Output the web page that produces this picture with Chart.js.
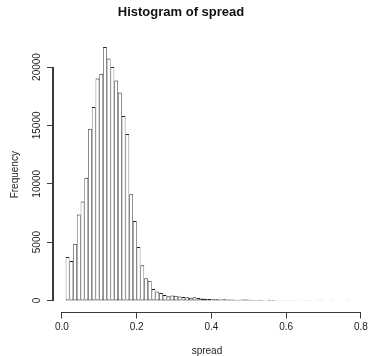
<!DOCTYPE html>
<html>
<head>
<meta charset="utf-8">
<script src="https://cdn.jsdelivr.net/npm/chart.js@4/dist/chart.umd.min.js"></script>
<style>
  html, body { margin: 0; padding: 0; background: #ffffff; }
  canvas { display: block; }
</style>
</head>
<body>
<canvas id="c" width="371" height="356"></canvas>
<script>
// Histogram bins: left edges of each 0.01-wide bin
const binLeft = [
  0.01, 0.02, 0.03, 0.04, 0.05, 0.06, 0.07, 0.08, 0.09, 0.10,
  0.11, 0.12, 0.13, 0.14, 0.15, 0.16, 0.17, 0.18, 0.19, 0.20,
  0.21, 0.22, 0.23, 0.24, 0.25, 0.26, 0.27, 0.28, 0.29, 0.30,
  0.31, 0.32, 0.33, 0.34, 0.35, 0.36, 0.37, 0.38, 0.39, 0.40,
  0.41, 0.42, 0.43, 0.44, 0.45, 0.46, 0.47, 0.48, 0.49, 0.50,
  0.51, 0.52, 0.53, 0.54, 0.55, 0.56, 0.57, 0.58, 0.59, 0.60,
  0.61, 0.62, 0.63, 0.64, 0.65, 0.66, 0.67, 0.68, 0.69, 0.70,
  0.71, 0.72, 0.73, 0.74, 0.75, 0.76
];
const binWidth = 0.01;
// Frequencies
const frequency = [
  3730, 3380, 4870, 7370, 8480, 10520, 14710, 16570, 19010, 19430,
  21710, 20730, 20000, 18840, 17810, 15800, 14260, 9100, 6810, 4580,
  3020, 1900, 1700, 990, 760, 650, 470, 370, 420, 400,
  330, 290, 270, 230, 280, 220, 160, 150, 130, 110,
  110, 90, 100, 90, 80, 60, 55, 80, 75, 70,
  45, 40, 35, 30, 70, 50, 20, 25, 15, 15,
  20, 10, 12, 8, 15, 10, 8, 10, 12, 6,
  8, 10, 5, 8, 6, 10
];
const xTicks = [0.0, 0.2, 0.4, 0.6, 0.8];
const xTickLabels = ["0.0", "0.2", "0.4", "0.6", "0.8"];
const yTicks = [0, 5000, 10000, 15000, 20000];
const yTickLabels = ["0", "5000", "10000", "15000", "20000"];
const titleText = "Histogram of spread";
const xTitle = "spread";
const yTitle = "Frequency";

const points = binLeft.map((b, i) => ({ x: b + binWidth / 2, y: frequency[i] }));

const FONT = "'Liberation Sans', Arial, Helvetica, sans-serif";
const AXIS_COLOR = "#3a3a3a";
const TEXT_COLOR = "#222222";

// R-style axis lines spanning only the tick range
const rAxes = {
  id: 'rAxes',
  afterDraw(chart) {
    const ctx = chart.ctx;
    ctx.save();
    const area = chart.chartArea;
    const xs = chart.scales.x, ys = chart.scales.y;
    ctx.fillStyle = AXIS_COLOR;
    // x axis line
    const yb = Math.floor(area.bottom);
    const x0 = Math.floor(xs.getPixelForValue(xTicks[0]));
    const x1 = Math.floor(xs.getPixelForValue(xTicks[xTicks.length - 1]));
    ctx.fillRect(x0, yb, x1 - x0 + 1, 1);
    // y axis line (2px, like the anti-aliased R line) and tick marks
    const xl = Math.floor(area.left);
    const y0 = Math.floor(ys.getPixelForValue(yTicks[0]));
    const y1 = Math.floor(ys.getPixelForValue(yTicks[yTicks.length - 1]));
    ctx.fillRect(xl - 1, y1, 2, y0 - y1 + 1);
    yTicks.forEach(v => {
      const py = Math.floor(ys.getPixelForValue(v));
      ctx.fillRect(xl - 6, py, 6, 1);
    });
    ctx.restore();
  }
};

new Chart(document.getElementById('c'), {
  type: 'bar',
  data: {
    datasets: [{
      data: points,
      backgroundColor: '#ffffff',
      borderColor: '#222222',
      borderWidth: { left: 0.7, right: 0.7, top: 1, bottom: 1 },
      borderSkipped: false,
      inflateAmount: 0,
      barPercentage: 1.0,
      categoryPercentage: 1.0
    }]
  },
  options: {
    responsive: false,
    animation: false,
    devicePixelRatio: 1,
    layout: { padding: { left: 0, right: 9, top: 0, bottom: 0 } },
    plugins: {
      legend: { display: false },
      tooltip: { enabled: false },
      title: {
        display: true,
        text: titleText,
        color: '#111111',
        font: { family: FONT, size: 13, weight: 'bold', lineHeight: 1.2 },
        padding: { top: 5, bottom: 16.3 }
      }
    },
    scales: {
      x: {
        type: 'linear',
        offset: false,
        min: -0.024,
        max: 0.8,
        afterFit(scale) { scale.height = 43.5; },
        afterBuildTicks(scale) { scale.ticks = xTicks.map(v => ({ value: v })); },
        ticks: {
          color: TEXT_COLOR,
          font: { family: FONT, size: 10, lineHeight: 1.2 },
          padding: 3.2,
          maxRotation: 0,
          minRotation: 0,
          callback: (v) => { const i = xTicks.indexOf(v); return i >= 0 ? xTickLabels[i] : ''; }
        },
        grid: { display: true, offset: false, drawOnChartArea: false, drawTicks: true, tickLength: 6, color: AXIS_COLOR, lineWidth: 1 },
        border: { display: false },
        title: {
          display: true,
          text: xTitle,
          color: TEXT_COLOR,
          font: { family: FONT, size: 10, lineHeight: 1.0 },
          padding: { top: 0, bottom: 0 }
        }
      },
      y: {
        type: 'linear',
        min: -1030,
        max: 22580,
        afterFit(scale) { scale.width = 53; },
        afterBuildTicks(scale) { scale.ticks = yTicks.map(v => ({ value: v })); },
        ticks: {
          color: TEXT_COLOR,
          font: { family: FONT, size: 10, lineHeight: 1.2 },
          padding: 2.1,
          crossAlign: 'center',
          minRotation: 90,
          maxRotation: 90,
          autoSkip: false,
          callback: (v) => { const i = yTicks.indexOf(v); return i >= 0 ? yTickLabels[i] : ''; }
        },
        grid: { display: false, drawOnChartArea: false, drawTicks: false },
        border: { display: false },
        title: {
          display: true,
          text: yTitle,
          color: TEXT_COLOR,
          font: { family: FONT, size: 10, lineHeight: 1.2 },
          padding: { top: 9, bottom: 0 }
        }
      }
    }
  },
  plugins: [rAxes]
});
</script>
</body>
</html>
